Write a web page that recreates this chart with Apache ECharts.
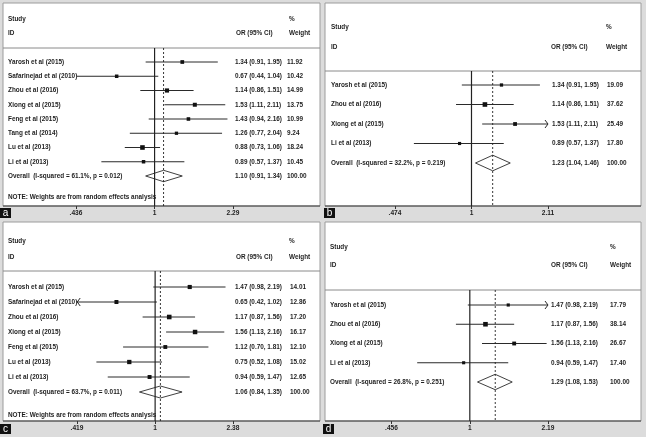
<!DOCTYPE html>
<html>
<head>
<meta charset="utf-8">
<script src="https://cdn.jsdelivr.net/npm/echarts@6/dist/echarts.min.js"></script>
<style>
html, body { margin: 0; padding: 0; background: #dcdcdc; }
#chart { width: 646px; height: 437px; }
</style>
</head>
<body>
<div id="chart"></div>
<script>
// ---- panel a ----
const studiesA = ['Yarosh et al (2015)', 'Safarinejad et al (2010)', 'Zhou et al (2016)', 'Xiong et al (2015)',
  'Feng et al (2015)', 'Tang et al (2014)', 'Lu et al (2013)', 'Li et al (2013)'];
const orA = [1.34, 0.67, 1.14, 1.53, 1.43, 1.26, 0.88, 0.89];
const loA = [0.91, 0.44, 0.86, 1.11, 0.94, 0.77, 0.73, 0.57];
const hiA = [1.95, 1.04, 1.51, 2.11, 2.16, 2.04, 1.06, 1.37];
const weightA = [11.92, 10.42, 14.99, 13.75, 10.99, 9.24, 18.24, 10.45];
const overallLabelA = 'Overall  (I-squared = 61.1%, p = 0.012)';
const overallA = [1.10, 0.91, 1.34];
const ticksA = [0.436, 1, 2.29];
const tickLabelsA = ['.436', '1', '2.29'];

// ---- panel b ----
const studiesB = ['Yarosh et al (2015)', 'Zhou et al (2016)', 'Xiong et al (2015)', 'Li et al (2013)'];
const orB = [1.34, 1.14, 1.53, 0.89];
const loB = [0.91, 0.86, 1.11, 0.57];
const hiB = [1.95, 1.51, 2.11, 1.37];
const weightB = [19.09, 37.62, 25.49, 17.80];
const overallLabelB = 'Overall  (I-squared = 32.2%, p = 0.219)';
const overallB = [1.23, 1.04, 1.46];
const ticksB = [0.474, 1, 2.11];
const tickLabelsB = ['.474', '1', '2.11'];

// ---- panel c ----
const studiesC = ['Yarosh et al (2015)', 'Safarinejad et al (2010)', 'Zhou et al (2016)', 'Xiong et al (2015)',
  'Feng et al (2015)', 'Lu et al (2013)', 'Li et al (2013)'];
const orC = [1.47, 0.65, 1.17, 1.56, 1.12, 0.75, 0.94];
const loC = [0.98, 0.42, 0.87, 1.13, 0.70, 0.52, 0.59];
const hiC = [2.19, 1.02, 1.56, 2.16, 1.81, 1.08, 1.47];
const weightC = [14.01, 12.86, 17.20, 16.17, 12.10, 15.02, 12.65];
const overallLabelC = 'Overall  (I-squared = 63.7%, p = 0.011)';
const overallC = [1.06, 0.84, 1.35];
const ticksC = [0.419, 1, 2.38];
const tickLabelsC = ['.419', '1', '2.38'];

// ---- panel d ----
const studiesD = ['Yarosh et al (2015)', 'Zhou et al (2016)', 'Xiong et al (2015)', 'Li et al (2013)'];
const orD = [1.47, 1.17, 1.56, 0.94];
const loD = [0.98, 0.87, 1.13, 0.59];
const hiD = [2.19, 1.56, 2.16, 1.47];
const weightD = [17.79, 38.14, 26.67, 17.40];
const overallLabelD = 'Overall  (I-squared = 26.8%, p = 0.251)';
const overallD = [1.29, 1.08, 1.53];
const ticksD = [0.456, 1, 2.19];
const tickLabelsD = ['.456', '1', '2.19'];

const noteText = 'NOTE: Weights are from random effects analysis';

const FONT = '"Liberation Sans", Arial, sans-serif';
const TXT = 'bold 6.4px ' + FONT;
const INK = '#1e1e1e';

// layout of each panel (pixels)
const panels = [
  { letter: 'a', studies: studiesA, or: orA, lo: loA, hi: hiA, w: weightA, overall: overallA, overallLabel: overallLabelA,
    ticks: ticksA, tickLabels: tickLabelsA, note: true,
    x0: 3, x1: 320, top: 3, header: 48, axisY: 206, firstRow: 62, step: 14.25, left: 76, width: 157,
    labelX: 8, orX: 235, wX: 287, studyY: 19, idY: 33, pctX: 289, orHeadX: 236, noteY: 197, boxX: 0, boxY: 208 },
  { letter: 'b', studies: studiesB, or: orB, lo: loB, hi: hiB, w: weightB, overall: overallB, overallLabel: overallLabelB,
    ticks: ticksB, tickLabels: tickLabelsB, note: false,
    x0: 325, x1: 641, top: 3, header: 71, axisY: 206, firstRow: 85, step: 19.5, left: 395, width: 153,
    labelX: 331, orX: 552, wX: 607, studyY: 27, idY: 47, pctX: 606, orHeadX: 551, boxX: 324, boxY: 208 },
  { letter: 'c', studies: studiesC, or: orC, lo: loC, hi: hiC, w: weightC, overall: overallC, overallLabel: overallLabelC,
    ticks: ticksC, tickLabels: tickLabelsC, note: true,
    x0: 3, x1: 320, top: 222, header: 271, axisY: 421, firstRow: 287, step: 15, left: 77, width: 156,
    labelX: 8, orX: 235, wX: 290, studyY: 241, idY: 257, pctX: 289, orHeadX: 236, noteY: 415, boxX: 0, boxY: 424 },
  { letter: 'd', studies: studiesD, or: orD, lo: loD, hi: hiD, w: weightD, overall: overallD, overallLabel: overallLabelD,
    ticks: ticksD, tickLabels: tickLabelsD, note: false,
    x0: 325, x1: 641, top: 222, header: 290, axisY: 421, firstRow: 305, step: 19.25, left: 391.5, width: 156.5,
    labelX: 330, orX: 551, wX: 610, studyY: 247, idY: 265, pctX: 610, orHeadX: 551, boxX: 323, boxY: 424 }
];

const fmt = v => v.toFixed(2);

function text(x, y, s, extra) {
  return Object.assign({
    type: 'text', x: x, y: y, z: 10,
    style: { text: s, fill: INK, font: TXT, textAlign: 'left', textVerticalAlign: 'middle' }
  }, extra || {});
}

const grid = [], xAxis = [], yAxis = [], series = [], graphic = [];

panels.forEach((p, k) => {
  const n = p.studies.length;
  const yMin = 1 - (p.firstRow - p.header) / p.step;
  const yMax = 1 + (p.axisY - p.firstRow) / p.step;
  const xMin = p.ticks[0], xMax = p.ticks[p.ticks.length - 1];

  grid.push({ left: p.left, width: p.width, top: p.header, height: p.axisY - p.header, outerBoundsMode: 'none' });
  xAxis.push({
    gridIndex: k, type: 'log', min: xMin, max: xMax, position: 'bottom',
    axisLine: { show: false, onZero: false }, splitLine: { show: false },
    axisTick: { show: true, customValues: p.ticks, length: 3, lineStyle: { color: '#333', width: 1 } },
    axisLabel: {
      customValues: p.ticks, margin: 4, color: INK, fontSize: 6.6, fontWeight: 'bold', fontFamily: FONT,
      formatter: v => {
        const j = p.ticks.findIndex(t => Math.abs(t - v) < 1e-6);
        return j >= 0 ? p.tickLabels[j] : '';
      }
    }
  });
  yAxis.push({ gridIndex: k, type: 'value', inverse: true, min: yMin, max: yMax, show: false });

  // panel frame
  graphic.push({ type: 'rect', z: -5, shape: { x: p.x0, y: p.top, width: p.x1 - p.x0, height: p.axisY - p.top },
    style: { fill: '#fff', stroke: '#9c9c9c', lineWidth: 1 } });
  graphic.push({ type: 'line', z: 1, shape: { x1: p.x0, y1: p.header, x2: p.x1, y2: p.header },
    style: { stroke: '#8a8a8a', lineWidth: 1 } });
  graphic.push({ type: 'line', z: 1, shape: { x1: p.x0, y1: p.axisY, x2: p.x1, y2: p.axisY },
    style: { stroke: '#3a3a3a', lineWidth: 1.2 } });
  graphic.push(text(p.labelX, p.studyY, 'Study'));
  graphic.push(text(p.labelX, p.idY, 'ID'));
  graphic.push(text(p.pctX, p.studyY, '%'));
  graphic.push(text(p.orHeadX, p.idY, 'OR (95% CI)'));
  graphic.push(text(p.pctX, p.idY, 'Weight'));
  if (p.note) graphic.push(text(p.labelX, p.noteY, noteText));
  graphic.push({ type: 'rect', z: 20, shape: { x: p.boxX, y: p.boxY, width: 11, height: 10 }, style: { fill: '#111' } });
  graphic.push({ type: 'text', z: 21, x: p.boxX + 5.5, y: p.boxY + 5,
    style: { text: p.letter, fill: '#fff', font: '10px ' + FONT, textAlign: 'center', textVerticalAlign: 'middle' } });

  // studies + overall
  const rows = p.studies.map((s, i) => [p.or[i], i + 1, p.lo[i], p.hi[i], p.w[i]]);
  rows.push([p.overall[0], n + 1, p.overall[1], p.overall[2], 100]);
  const maxW = Math.max.apply(null, p.w);

  series.push({
    type: 'custom', xAxisIndex: k, yAxisIndex: k, clip: false, silent: true,
    encode: { x: [0, 2, 3], y: 1 },
    data: rows,
    renderItem: (params, api) => {
      const i = params.dataIndex;
      const row = api.value(1);
      const c = api.coord([api.value(0), row]);
      const cLo = api.coord([Math.max(api.value(2), xMin), row]);
      const cHi = api.coord([Math.min(api.value(3), xMax), row]);
      const y = c[1];
      const line = { stroke: '#2a2a2a', lineWidth: 1 };
      const ch = [];
      if (i === n) {
        const h = api.coord([api.value(0), row + 0.4])[1] - y;
        ch.push({ type: 'polygon', shape: { points: [[cLo[0], y], [c[0], y - h], [cHi[0], y], [c[0], y + h]] },
          style: { fill: '#fff', stroke: '#2a2a2a', lineWidth: 0.9 } });
        ch.push(text(p.labelX, y, p.overallLabel));
      } else {
        ch.push({ type: 'line', shape: { x1: cLo[0], y1: y, x2: cHi[0], y2: y }, style: line });
        if (api.value(2) <= xMin * 1.005) {
          ch.push({ type: 'polyline', shape: { points: [[cLo[0] + 3, y - 4], [cLo[0], y], [cLo[0] + 3, y + 4]] },
            style: { stroke: '#2a2a2a', lineWidth: 1, fill: null } });
        }
        if (api.value(3) >= xMax * 0.995) {
          ch.push({ type: 'polyline', shape: { points: [[cHi[0] - 3, y - 4], [cHi[0], y], [cHi[0] - 3, y + 4]] },
            style: { stroke: '#2a2a2a', lineWidth: 1, fill: null } });
        }
        const s = Math.max(2.4, 4.6 * Math.sqrt(api.value(4) / maxW));
        ch.push({ type: 'rect', shape: { x: c[0] - s / 2, y: y - s / 2, width: s, height: s }, style: { fill: '#111' } });
        ch.push(text(p.labelX, y, p.studies[i]));
      }
      ch.push(text(p.orX, y, fmt(api.value(0)) + ' (' + fmt(api.value(2)) + ', ' + fmt(api.value(3)) + ')'));
      ch.push(text(p.wX, y, fmt(api.value(4))));
      return { type: 'group', children: ch };
    }
  });

  // null line at 1 and dashed line at the pooled estimate
  series.push({
    type: 'custom', xAxisIndex: k, yAxisIndex: k, clip: false, silent: true,
    encode: { x: 0, y: 1 },
    data: [[1, yMin, 0], [p.overall[0], yMin, 1]],
    renderItem: (params, api) => {
      const top = api.coord([api.value(0), yMin]);
      const bot = api.coord([api.value(0), yMax]);
      const dashed = api.value(2) === 1;
      return { type: 'line', shape: { x1: top[0], y1: top[1], x2: bot[0], y2: bot[1] },
        style: { stroke: '#222', lineWidth: dashed ? 0.9 : 1.2, lineDash: dashed ? [2, 2] : null } };
    }
  });
});

const chart = echarts.init(document.getElementById('chart'));
chart.setOption({
  backgroundColor: '#dcdcdc',
  animation: false,
  grid: grid,
  xAxis: xAxis,
  yAxis: yAxis,
  graphic: graphic,
  series: series
});
window.addEventListener('resize', () => chart.resize());
</script>
</body>
</html>
